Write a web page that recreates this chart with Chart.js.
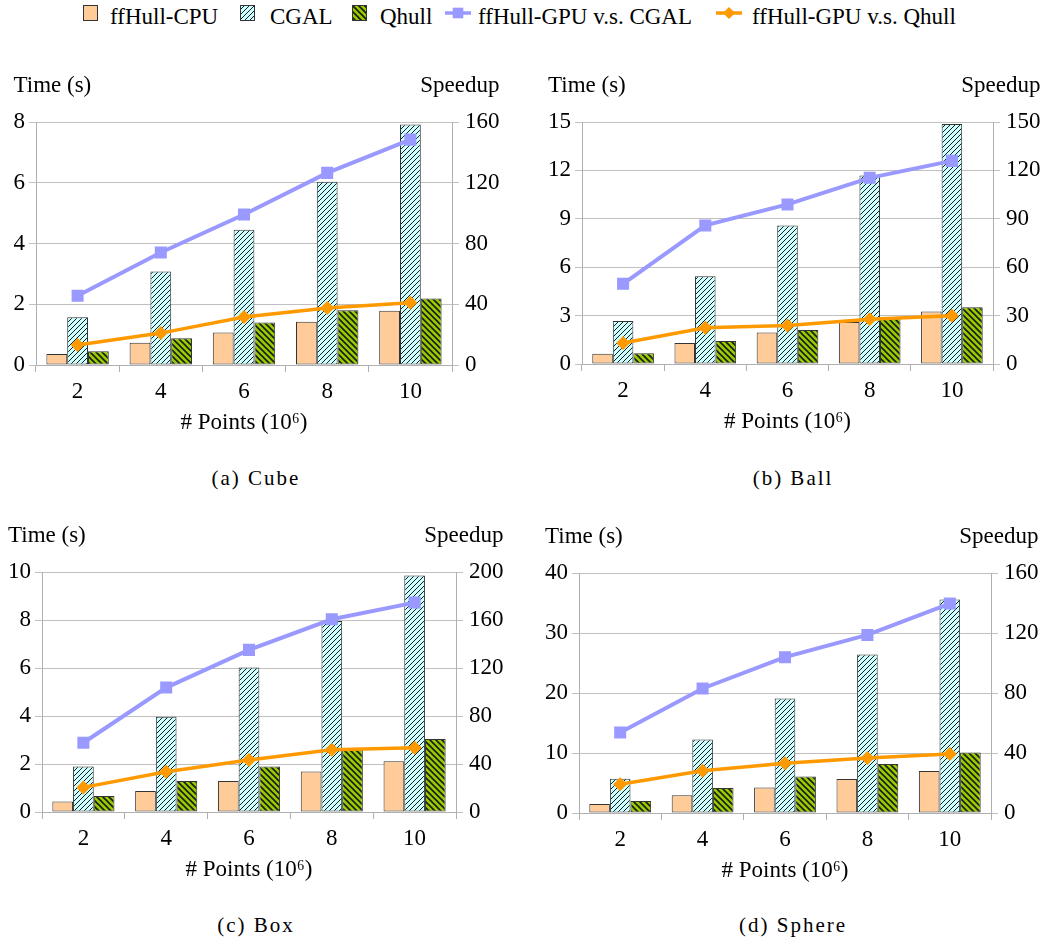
<!DOCTYPE html>
<html>
<head>
<meta charset="utf-8">
<script src="https://cdn.jsdelivr.net/npm/chart.js@4.4.1/dist/chart.umd.min.js"></script>
<style>
  html, body { margin: 0; padding: 0; background: #fff; }
  body { width: 1048px; height: 942px; position: relative; overflow: hidden;
         font-family: 'Liberation Serif', 'Times New Roman', serif; color: #000; }
  canvas.panel { position: absolute; }
  .legend-item { position: absolute; top: 4px; height: 26px; line-height: 26px;
                 font-size: 23px; white-space: nowrap; }
  .legend-swatch { position: absolute; top: 5px; }
  .caption { position: absolute; transform: translateX(-50%); font-size: 21px;
             line-height: 24px; letter-spacing: 2px; white-space: nowrap; }
</style>
</head>
<body>
<script>
// ---- data -------------------------------------------------------------
const categories = ['2', '4', '6', '8', '10'];
const seriesNames = ['ffHull-CPU', 'CGAL', 'Qhull', 'ffHull-GPU v.s. CGAL', 'ffHull-GPU v.s. Qhull'];

// Cube
const cubeCpu        = [0.36, 0.73, 1.07, 1.42, 1.79];
const cubeCgal       = [1.57, 3.08, 4.45, 6.03, 7.92];
const cubeQhull      = [0.45, 0.88, 1.40, 1.80, 2.19];
const cubeSpeedCgal  = [45.6, 74.1, 99.1, 126.5, 148.4];
const cubeSpeedQhull = [13.2, 21.0, 31.6, 37.5, 41.0];
const cubeTimeTicks  = [0, 2, 4, 6, 8];
const cubeSpeedTicks = [0, 40, 80, 120, 160];

// Ball
const ballCpu        = [0.64, 1.30, 1.96, 2.60, 3.26];
const ballCgal       = [2.66, 5.44, 8.59, 11.68, 14.88];
const ballQhull      = [0.66, 1.42, 2.10, 2.91, 3.52];
const ballSpeedCgal  = [49.7, 85.9, 98.9, 115.4, 125.9];
const ballSpeedQhull = [13.0, 22.5, 23.9, 27.8, 29.9];
const ballTimeTicks  = [0, 3, 6, 9, 12, 15];
const ballSpeedTicks = [0, 30, 60, 90, 120, 150];

// Box
const boxCpu        = [0.44, 0.87, 1.29, 1.69, 2.11];
const boxCgal       = [1.90, 3.97, 6.02, 7.96, 9.85];
const boxQhull      = [0.67, 1.29, 1.90, 2.62, 3.04];
const boxSpeedCgal  = [57.7, 103.7, 135.1, 160.6, 174.5];
const boxSpeedQhull = [20.5, 33.6, 43.3, 51.9, 53.5];
const boxTimeTicks  = [0, 2, 4, 6, 8, 10];
const boxSpeedTicks = [0, 40, 80, 120, 160, 200];

// Sphere
const sphereCpu        = [1.50, 2.94, 4.27, 5.66, 6.99];
const sphereCgal       = [5.71, 12.26, 19.08, 26.4, 35.6];
const sphereQhull      = [2.00, 4.16, 6.10, 8.15, 10.09];
const sphereSpeedCgal  = [53.7, 83.0, 103.9, 118.7, 139.6];
const sphereSpeedQhull = [19.1, 28.2, 33.1, 36.6, 39.3];
const sphereTimeTicks  = [0, 10, 20, 30, 40];
const sphereSpeedTicks = [0, 40, 80, 120, 160];

// ---- styling ----------------------------------------------------------
const FONT_FAMILY = "'Liberation Serif', 'Times New Roman', serif";
const FONT_SIZE = 23;
const GRID = '#c0c0c0';
const AXIS = '#b0b0b0';
const CPU_FILL = '#ffcc99';
const CGAL_FILL = '#ccffff';
const QHULL_FILL = '#99cc00';
const CGAL_LINE = '#9999ff';
const QHULL_LINE = '#ff9900';
const BAR_EDGE = '#333333';

// diagonal hatch tile; dir 1 = '/', dir -1 = '\'
function hatch(bg, dir, s, lw) {
  const c = document.createElement('canvas');
  c.width = c.height = s;
  const g = c.getContext('2d');
  g.fillStyle = bg;
  g.fillRect(0, 0, s, s);
  g.strokeStyle = '#1a1a1a';
  g.lineWidth = lw;
  g.beginPath();
  if (dir > 0) {
    g.moveTo(0, s); g.lineTo(s, 0);
    g.moveTo(-1, 1); g.lineTo(1, -1);
    g.moveTo(s - 1, s + 1); g.lineTo(s + 1, s - 1);
  } else {
    g.moveTo(0, 0); g.lineTo(s, s);
    g.moveTo(-1, s - 1); g.lineTo(1, s + 1);
    g.moveTo(s - 1, -1); g.lineTo(s + 1, 1);
  }
  g.stroke();
  return g.createPattern(c, 'repeat');
}
const cgalPattern = hatch(CGAL_FILL, 1, 5, 1);
const qhullPattern = hatch(QHULL_FILL, -1, 6, 1.6);

// ---- legend -----------------------------------------------------------
function drawMarker(g, style, x, y, r, color) {
  g.fillStyle = color;
  g.beginPath();
  if (style === 'rect') {
    const h = r * Math.SQRT1_2;
    g.rect(x - h, y - h, 2 * h, 2 * h);
  } else {
    g.moveTo(x - r, y); g.lineTo(x, y - r); g.lineTo(x + r, y); g.lineTo(x, y + r);
    g.closePath();
  }
  g.fill();
}

const legendItems = [
  { name: seriesNames[0], kind: 'box', fill: CPU_FILL, sx: 83, tx: 110 },
  { name: seriesNames[1], kind: 'box', fill: cgalPattern, sx: 240, tx: 270 },
  { name: seriesNames[2], kind: 'box', fill: qhullPattern, sx: 352, tx: 380 },
  { name: seriesNames[3], kind: 'line', color: CGAL_LINE, marker: 'rect', r: 7.5, sx: 445, tx: 478 },
  { name: seriesNames[4], kind: 'line', color: QHULL_LINE, marker: 'rectRot', r: 6, sx: 716, tx: 752 }
];
legendItems.forEach(it => {
  const sw = document.createElement('canvas');
  sw.className = 'legend-swatch';
  const g = sw.getContext('2d');
  if (it.kind === 'box') {
    sw.width = 15; sw.height = 16;
    sw.style.left = it.sx + 'px';
    g.fillStyle = it.fill;
    g.fillRect(0, 0, 15, 16);
    g.strokeStyle = BAR_EDGE;
    g.lineWidth = 1;
    g.strokeRect(0.5, 0.5, 14, 15);
  } else {
    sw.width = 26; sw.height = 16;
    sw.style.left = it.sx + 'px';
    g.strokeStyle = it.color;
    g.lineWidth = 3.5;
    g.beginPath(); g.moveTo(0, 8); g.lineTo(26, 8); g.stroke();
    drawMarker(g, it.marker, 13, 8, it.r, it.color);
  }
  document.body.appendChild(sw);
  const t = document.createElement('div');
  t.className = 'legend-item';
  t.style.left = it.tx + 'px';
  t.textContent = it.name;
  document.body.appendChild(t);
});

// ---- axis captions above the two y axes --------------------------------
const axisCaptions = {
  id: 'axisCaptions',
  afterDraw(chart, args, opts) {
    const { ctx, chartArea } = chart;
    const font = FONT_SIZE + 'px ' + FONT_FAMILY;
    ctx.save();
    ctx.font = font;
    ctx.fillStyle = '#000';
    ctx.textBaseline = 'middle';
    const widest = s => Math.max(...s.ticks.map(t => ctx.measureText(String(t.label)).width));
    const y = chartArea.top - 36;
    ctx.textAlign = 'left';
    ctx.fillText(opts.left, chartArea.left - 11 - widest(chart.scales.y), y);
    ctx.textAlign = 'right';
    ctx.fillText(opts.right, chartArea.right + 13 + widest(chart.scales.y1), y);
    ctx.restore();
  }
};

// ---- panels -----------------------------------------------------------
const panels = [
  { caption: '(a)  Cube', cpu: cubeCpu, cgal: cubeCgal, qhull: cubeQhull,
    sCgal: cubeSpeedCgal, sQhull: cubeSpeedQhull, tTicks: cubeTimeTicks, sTicks: cubeSpeedTicks,
    box: { left: 0, top: 40, width: 520, height: 405, padTop: 82, yW: 36, y1W: 68 }, capY: 466 },
  { caption: '(b)  Ball', cpu: ballCpu, cgal: ballCgal, qhull: ballQhull,
    sCgal: ballSpeedCgal, sQhull: ballSpeedQhull, tTicks: ballTimeTicks, sTicks: ballSpeedTicks,
    box: { left: 520, top: 40, width: 528, height: 404, padTop: 82, yW: 62, y1W: 55 }, capY: 466 },
  { caption: '(c)  Box', cpu: boxCpu, cgal: boxCgal, qhull: boxQhull,
    sCgal: boxSpeedCgal, sQhull: boxSpeedQhull, tTicks: boxTimeTicks, sTicks: boxSpeedTicks,
    box: { left: 0, top: 490, width: 520, height: 402, padTop: 82, yW: 42, y1W: 64 }, capY: 913 },
  { caption: '(d)  Sphere', cpu: sphereCpu, cgal: sphereCgal, qhull: sphereQhull,
    sCgal: sphereSpeedCgal, sQhull: sphereSpeedQhull, tTicks: sphereTimeTicks, sTicks: sphereSpeedTicks,
    box: { left: 520, top: 490, width: 528, height: 403, padTop: 83, yW: 59, y1W: 57 }, capY: 913 }
];

const tickFont = { family: FONT_FAMILY, size: FONT_SIZE };

panels.forEach(p => {
  const b = p.box;
  const cv = document.createElement('canvas');
  cv.className = 'panel';
  cv.width = b.width; cv.height = b.height;
  cv.style.left = b.left + 'px';
  cv.style.top = b.top + 'px';
  document.body.appendChild(cv);

  const barCommon = { type: 'bar', yAxisID: 'y', borderColor: BAR_EDGE, borderWidth: 1,
                      borderSkipped: false, categoryPercentage: 0.75, barPercentage: 1.0, order: 2 };
  new Chart(cv, {
    type: 'bar',
    data: {
      labels: categories,
      datasets: [
        { ...barCommon, label: seriesNames[0], data: p.cpu, backgroundColor: CPU_FILL },
        { ...barCommon, label: seriesNames[1], data: p.cgal, backgroundColor: cgalPattern },
        { ...barCommon, label: seriesNames[2], data: p.qhull, backgroundColor: qhullPattern },
        { type: 'line', label: seriesNames[3], data: p.sCgal, yAxisID: 'y1', order: 1,
          borderColor: CGAL_LINE, backgroundColor: CGAL_LINE, borderWidth: 4, tension: 0,
          pointStyle: 'rect', pointRadius: 8.5, pointBorderWidth: 0, pointBackgroundColor: CGAL_LINE },
        { type: 'line', label: seriesNames[4], data: p.sQhull, yAxisID: 'y1', order: 0,
          borderColor: QHULL_LINE, backgroundColor: QHULL_LINE, borderWidth: 3.5, tension: 0,
          pointStyle: 'rectRot', pointRadius: 7, pointBorderWidth: 0, pointBackgroundColor: QHULL_LINE }
      ]
    },
    options: {
      responsive: false,
      animation: false,
      devicePixelRatio: 1,
      layout: { padding: { top: b.padTop, left: 0, right: 0, bottom: 0 } },
      plugins: {
        legend: { display: false },
        tooltip: { enabled: false },
        axisCaptions: { left: 'Time (s)', right: 'Speedup' }
      },
      scales: {
        x: {
          offset: true,
          grid: { display: true, offset: true, drawOnChartArea: false, drawTicks: true,
                  tickLength: 7, color: AXIS },
          border: { display: true, color: AXIS },
          ticks: { font: tickFont, color: '#000', padding: 6, maxRotation: 0 },
          title: { display: true, text: '# Points (10\u2076)', font: tickFont, color: '#000',
                   padding: { top: 0, bottom: 8 } },
          afterFit: s => { s.height = 80; }
        },
        y: {
          position: 'left',
          min: p.tTicks[0], max: p.tTicks[p.tTicks.length - 1],
          ticks: { stepSize: p.tTicks[1] - p.tTicks[0], font: tickFont, color: '#000', padding: 4 },
          grid: { color: GRID, tickLength: 7, drawTicks: true },
          border: { display: true, color: AXIS },
          afterFit: s => { s.width = b.yW; }
        },
        y1: {
          position: 'right',
          min: p.sTicks[0], max: p.sTicks[p.sTicks.length - 1],
          ticks: { stepSize: p.sTicks[1] - p.sTicks[0], font: tickFont, color: '#000', padding: 6 },
          grid: { drawOnChartArea: false, color: GRID, tickLength: 7, drawTicks: true },
          border: { display: true, color: AXIS },
          afterFit: s => { s.width = b.y1W; }
        }
      }
    },
    plugins: [axisCaptions]
  });

  const cap = document.createElement('div');
  cap.className = 'caption';
  cap.style.left = (b.left + (b.left === 0 ? 256 : 273)) + 'px';
  cap.style.top = p.capY + 'px';
  cap.textContent = p.caption;
  document.body.appendChild(cap);
});
</script>
</body>
</html>
